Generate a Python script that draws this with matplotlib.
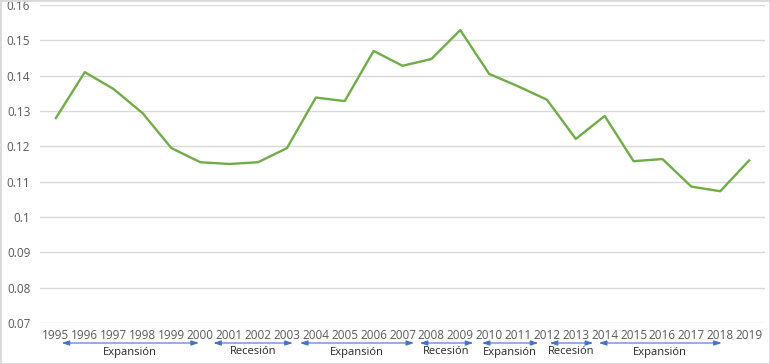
import matplotlib
matplotlib.use("Agg")
import matplotlib.pyplot as plt
import matplotlib.transforms as mtransforms
from matplotlib.patches import Rectangle

years = list(range(1995, 2020))
values = [0.128, 0.141, 0.1362, 0.1294, 0.1195, 0.1155, 0.1150, 0.1155, 0.1195,
          0.1338, 0.1328, 0.1470, 0.1428, 0.1447, 0.1529, 0.1405, 0.1370, 0.1332,
          0.1221, 0.1286, 0.1158, 0.1164, 0.1086, 0.1073, 0.1160]
yticks = [0.07, 0.08, 0.09, 0.1, 0.11, 0.12, 0.13, 0.14, 0.15, 0.16]
ytick_labels = ["0.07", "0.08", "0.09", "0.1", "0.11", "0.12", "0.13", "0.14", "0.15", "0.16"]

period_names = ["Expansión", "Recesión", "Expansión", "Recesión", "Expansión", "Recesión", "Expansión"]
period_start = [1995.2, 2000.45, 2003.45, 2007.6, 2009.75, 2012.1, 2013.8]
period_end = [1999.95, 2003.2, 2007.4, 2009.45, 2011.7, 2013.6, 2018.05]

plt.rcParams['font.family'] = ['Open Sans', 'DejaVu Sans']

fig = plt.figure(figsize=(7.7, 3.64), dpi=100)
ax = fig.add_axes([40/770, 1-323/364, 725/770, (323-5)/364])

x = [y - 1995 for y in years]
ax.plot(x, values, color="#70AD47", lw=1.7, solid_joinstyle="round", zorder=3)

ax.set_xlim(-0.55, 24.55)
ax.set_ylim(0.07, 0.16)
ax.set_yticks(yticks)
ax.set_yticklabels(ytick_labels)
ax.set_xticks(x)
ax.set_xticklabels([str(y) for y in years])
ax.grid(axis="y", color="#D9D9D9", lw=1)
ax.set_axisbelow(True)
for s in ax.spines.values():
    s.set_visible(False)
ax.tick_params(axis="both", length=0, labelsize=8.5, colors="#595959")
ax.tick_params(axis="x", pad=4)
ax.tick_params(axis="y", pad=7)

trans = mtransforms.blended_transform_factory(ax.transData, fig.transFigure)
for name, s, e in zip(period_names, period_start, period_end):
    xs, xe = s - 1995, e - 1995
    ax.annotate("", xy=(xe, 1-343/364), xytext=(xs, 1-343/364), xycoords=trans,
                textcoords=trans,
                arrowprops=dict(arrowstyle="<|-|>,head_length=0.45,head_width=0.15",
                                color="#4472C4", lw=0.8, shrinkA=0, shrinkB=0),
                annotation_clip=False)
    ax.text((xs+xe)/2, 1-352/364, name, transform=trans, ha="center", va="center",
            fontsize=8, color="#262626")

fig.patches.append(Rectangle((0, 0), 1, 1, transform=fig.transFigure, fill=False,
                             edgecolor="#D9D9D9", lw=2))
fig.savefig("out.png", dpi=100)
